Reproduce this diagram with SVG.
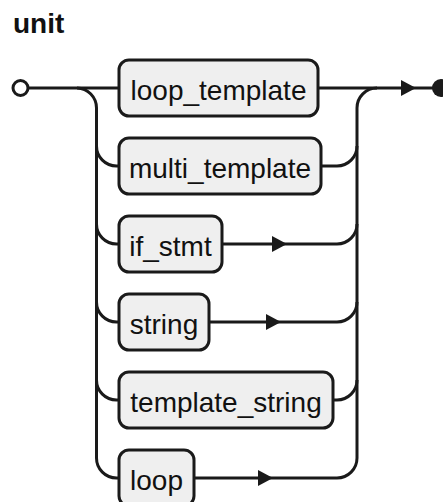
<svg xmlns="http://www.w3.org/2000/svg" width="443" height="502" viewBox="0 0 443 502">
<style>
.title{font-family:"Liberation Sans",Arial,sans-serif;font-size:28px;font-weight:bold;fill:#111}
.box rect{fill:#efefef;stroke:#1a1a1a;stroke-width:3}
.box text{font-family:"Liberation Sans",Arial,sans-serif;font-size:28px;fill:#111;text-anchor:middle}
.wire{fill:none;stroke:#1a1a1a;stroke-width:3}
.arr{fill:#1a1a1a;stroke:none}
</style>
<rect width="443" height="502" fill="#ffffff"/>
<text class="title" x="13" y="33">unit</text>
<g id="connectors">
<path class="wire" d="M28,88 H119"/>
<path class="wire" d="M77,88 A20,20 0 0 1 96.5,108 V458 A20,20 0 0 0 116.5,478 H119"/>
<path class="wire" d="M96.5,146 A20,20 0 0 0 116.5,166 H119"/>
<path class="wire" d="M96.5,224 A20,20 0 0 0 116.5,244 H119"/>
<path class="wire" d="M96.5,302 A20,20 0 0 0 116.5,322 H119"/>
<path class="wire" d="M96.5,380 A20,20 0 0 0 116.5,400 H119"/>
<path class="wire" d="M318,88 H433"/>
<path class="wire" d="M194,478 H337 A20,20 0 0 0 357,458 V108 A20,20 0 0 1 377,88"/>
<path class="wire" d="M321,166 H337 A20,20 0 0 0 357,146"/>
<path class="wire" d="M222,244 H337 A20,20 0 0 0 357,224"/>
<path class="wire" d="M209,322 H337 A20,20 0 0 0 357,302"/>
<path class="wire" d="M333,400 H337 A20,20 0 0 0 357,380"/>
<polygon class="arr" points="401,80 416,88 401,96"/>
<polygon class="arr" points="272,236 287,244 272,252"/>
<polygon class="arr" points="266,314 281,322 266,330"/>
<polygon class="arr" points="258,470 273,478 258,486"/>
<circle cx="20.5" cy="88" r="7.5" fill="#ffffff" stroke="#1a1a1a" stroke-width="3"/>
<circle cx="441" cy="88" r="9" fill="#1a1a1a"/>
</g>
<g id="loop_template" class="box"><rect x="119" y="60" width="199" height="56" rx="10"/><text x="218.5" y="100">loop_template</text></g>
<g id="multi_template" class="box"><rect x="119" y="138" width="202" height="56" rx="10"/><text x="220" y="178">multi_template</text></g>
<g id="if_stmt" class="box"><rect x="119" y="216" width="103" height="56" rx="10"/><text x="170.5" y="256">if_stmt</text></g>
<g id="string" class="box"><rect x="119" y="294" width="90" height="56" rx="10"/><text x="164" y="334">string</text></g>
<g id="template_string" class="box"><rect x="119" y="372" width="214" height="56" rx="10"/><text x="226" y="412">template_string</text></g>
<g id="loop" class="box"><rect x="119" y="450" width="75" height="56" rx="10"/><text x="156.5" y="490">loop</text></g>
</svg>
